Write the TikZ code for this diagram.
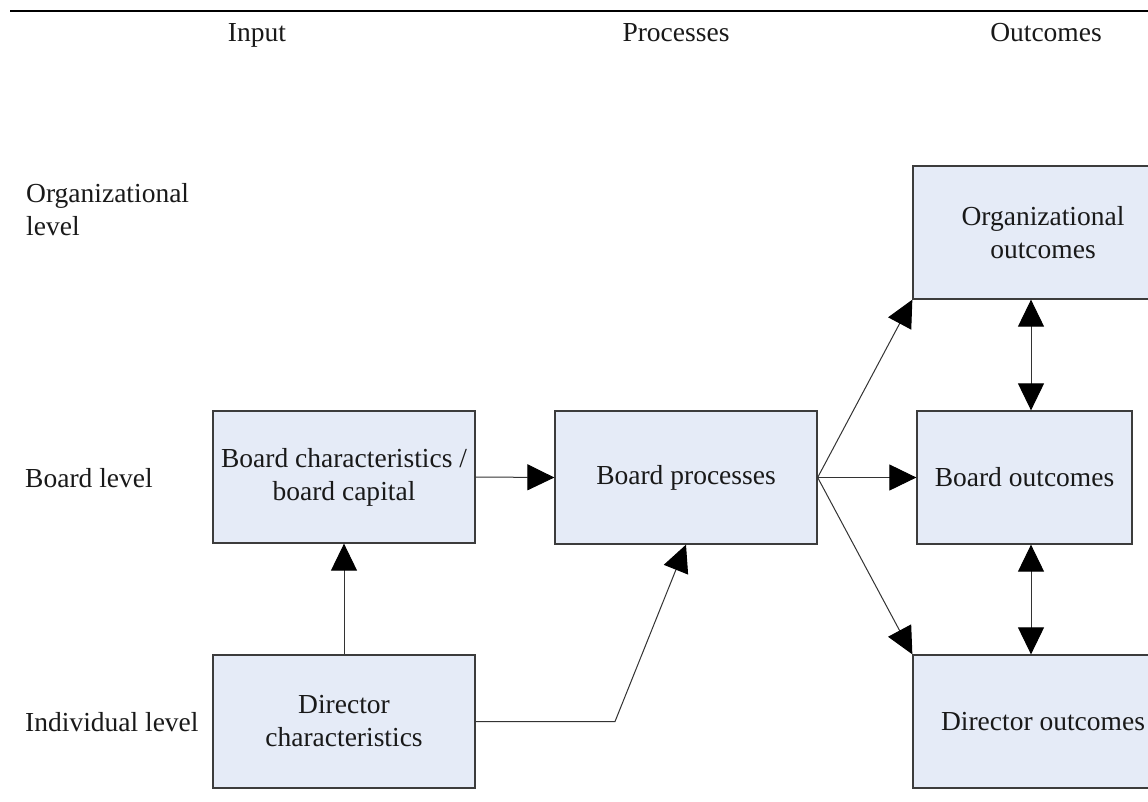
\documentclass[tikz,border=0pt]{standalone}
\usepackage{fontspec}
\setmainfont{Liberation Serif}
\usetikzlibrary{arrows.meta}
\definecolor{boxfill}{RGB}{229,235,247}
\definecolor{boxline}{RGB}{60,60,60}
\definecolor{txt}{RGB}{25,25,25}
\begin{document}
\begin{tikzpicture}[x=1pt,y=-1pt,
  font=\fontsize{27.5}{33}\selectfont, text=txt,
  box/.style={draw=boxline, line width=1.3pt, fill=boxfill, align=center, inner sep=0pt},
  lbl/.style={inner sep=0pt, align=left},
  conn/.style={line width=1pt, draw=black!80, -{Triangle[length=27pt,width=26pt,color=black]}},
  dbl/.style={line width=1pt, draw=black!80, {Triangle[length=27pt,width=26pt,color=black]}-{Triangle[length=27pt,width=26pt,color=black]}}]
\clip (0,0) rectangle (1148,801);
\fill[white] (0,0) rectangle (1148,801);
% top rule
\coordinate (ruleL) at (10,11);
\coordinate (ruleR) at (1148,11);
\draw[line width=2.4pt] (ruleL) -- (ruleR);
% headers
\node[anchor=base, inner sep=0pt] (hin) at (257,41) {Input};
\node[anchor=base, inner sep=0pt] (hpr) at (676,41) {Processes};
\node[anchor=base, inner sep=0pt] (hou) at (1046,41) {Outcomes};
% row labels
\node[lbl, anchor=north west] (lorg) at (26,183) {Organizational\\level};
\node[lbl, anchor=west] (lboard) at (25,478) {Board level};
\node[lbl, anchor=west] (lind) at (25,722) {Individual level};
% boxes
\node[box, minimum width=262pt, minimum height=132pt] (bc) at (344,477) {Board characteristics /\\board capital};
\node[box, minimum width=262pt, minimum height=133pt] (bp) at (686,477.5) {Board processes};
\node[box, minimum width=215pt, minimum height=133pt] (bo) at (1024.5,477.5) {Board outcomes};
\node[box, minimum width=260pt, minimum height=133pt] (org) at (1043,232.5) {Organizational\\outcomes};
\node[box, minimum width=260pt, minimum height=133pt] (do) at (1043,721.5) {Director outcomes};
\node[box, minimum width=262pt, minimum height=133pt] (dc) at (344,721.5) {Director\\characteristics};
% connectors
\coordinate (bend) at (615,721.5);
\coordinate (xd) at (1031,0);
\draw[conn] (bc.east) -- (bp.west);
\draw[conn] (dc.north) -- (bc.south);
\draw[conn] (dc.east) -- (bend) -- (bp.south);
\draw[conn] (bp.east) -- (org.south west);
\draw[conn] (bp.east) -- (bo.west);
\draw[conn] (bp.east) -- (do.north west);
\draw[dbl] (org.south -| xd) -- (bo.north -| xd);
\draw[dbl] (bo.south -| xd) -- (do.north -| xd);
\end{tikzpicture}
\end{document}
